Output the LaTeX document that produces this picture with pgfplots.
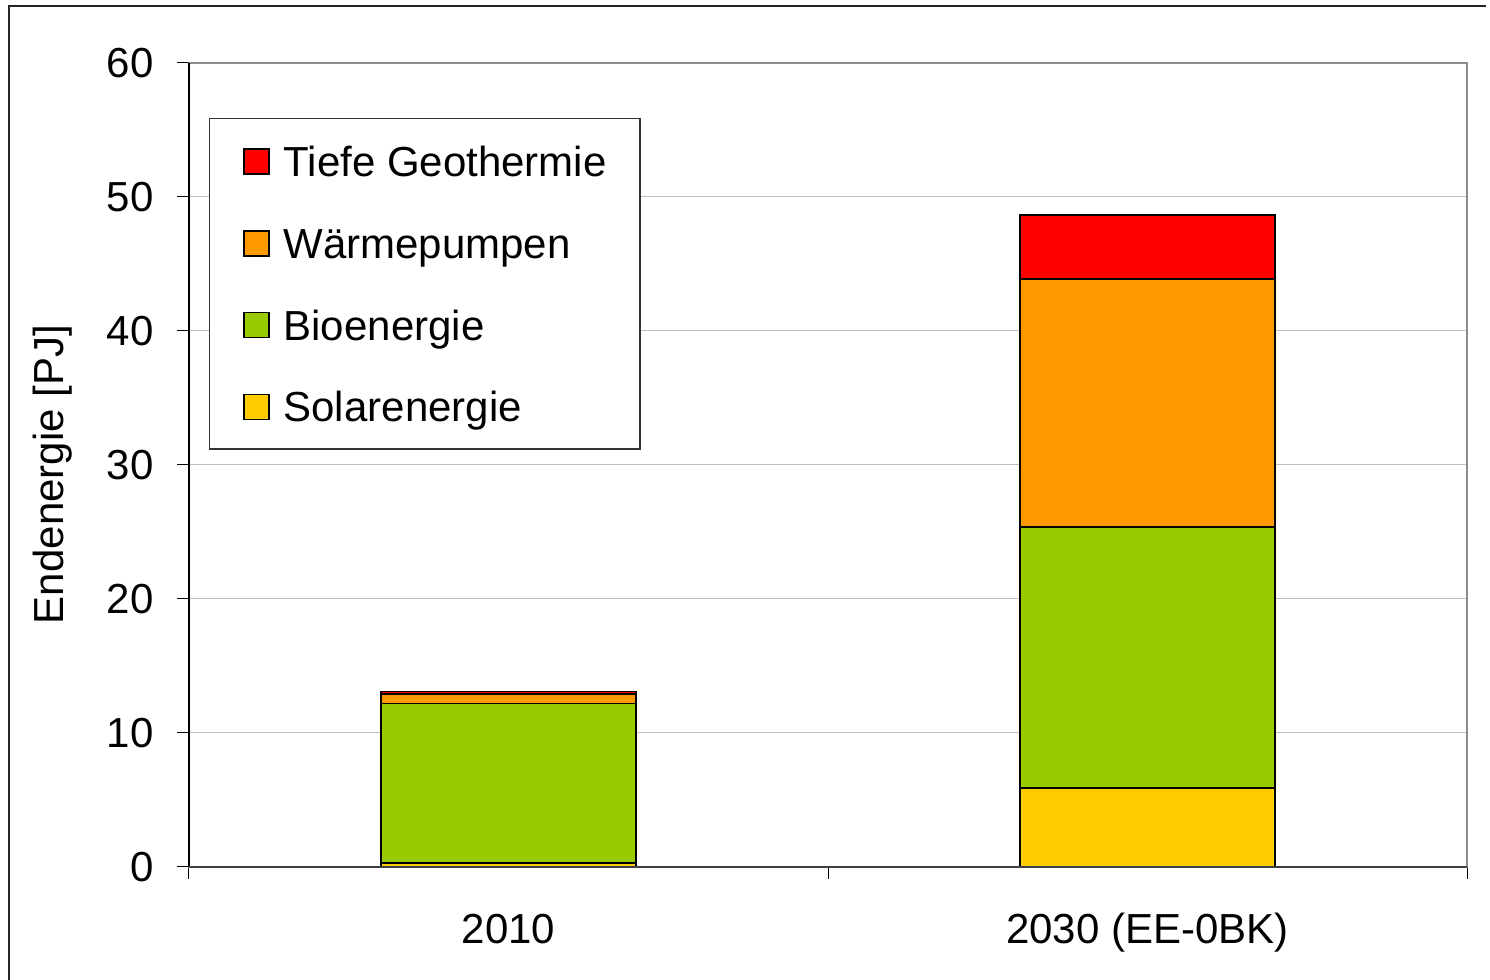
\documentclass[border=0pt]{standalone}
\usepackage{fontspec}
\setmainfont{Liberation Sans}
\usepackage{pgfplots}
\pgfplotsset{compat=1.18}
\definecolor{tgeo}{HTML}{FF0000}
\definecolor{wpump}{HTML}{FF9900}
\definecolor{bio}{HTML}{99CC00}
\definecolor{solar}{HTML}{FFCC00}

\begin{document}
\begin{tikzpicture}
\path[use as bounding box] (0,0) rectangle (745pt,490pt);
\draw[black!85, line width=1pt] (4.5pt,0) -- (4.5pt,487pt) -- (743pt,487pt);
\begin{axis}[
  at={(94.5pt,56.5pt)}, anchor=south west,
  scale only axis, width=639pt, height=402pt,
  xmin=0, xmax=2, ymin=0, ymax=60,
  ybar stacked, bar width=0.4,
  font=\fontsize{21}{25}\selectfont,
  /pgf/number format/assume math mode=true,
  axis line style={draw=black!45, line width=1pt},
  tick align=outside, xtick pos=bottom, ytick pos=left,
  major tick length=6pt,
  tick style={black, line width=0.5pt},
  ytick={0,10,...,60},
  ymajorgrids, grid style={black!25, line width=0.5pt},
  xtick={0,1,2}, xticklabels={},
  extra x ticks={0.5,1.5},
  extra x tick labels={2010,{2030 (EE-0BK)}},
  extra x tick style={major tick length=0pt},
  xticklabel style={anchor=north, inner sep=0pt, text height=15pt, text depth=4.5pt, yshift=-23pt},
  yticklabel style={anchor=east, inner sep=0pt, xshift=-11.5pt},
  ylabel={Endenergie [PJ]},
  ylabel style={at={(axis description cs:-0.098,0.488)}, anchor=base, rotate=0},
  legend style={at={(0.0156,0.9316)}, anchor=north west,
    draw=black!80, line width=0.6pt, inner xsep=16.75pt, inner ysep=9pt,
    row sep=16.4pt, column sep=7pt,
    nodes={inner sep=0pt, text height=20pt, text depth=4.5pt},
    font=\fontsize{21}{25}\selectfont},
  legend cell align=left,
  reverse legend,
  legend image code/.code={\draw[#1, line width=0.8pt] (0pt,-6.5pt) rectangle (12.5pt,6pt);},
  every axis plot/.append style={draw=black, line width=0.9pt},
  after end axis/.code={
    \draw[black, line width=1pt] (rel axis cs:0,1) -- (rel axis cs:0,0);
    \draw[black!75, line width=1pt] (rel axis cs:0,0) -- (rel axis cs:1,0);
  },
]
\addplot[fill=solar] coordinates {(0.5,0.3) (1.5,5.9)};
\addlegendentry{Solarenergie}
\addplot[fill=bio] coordinates {(0.5,11.9) (1.5,19.5)};
\addlegendentry{Bioenergie}
\addplot[fill=wpump] coordinates {(0.5,0.7) (1.5,18.5)};
\addlegendentry{Wärmepumpen}
\addplot[fill=tgeo] coordinates {(0.5,0.2) (1.5,4.75)};
\addlegendentry{Tiefe Geothermie}
\end{axis}
\end{tikzpicture}
\end{document}
